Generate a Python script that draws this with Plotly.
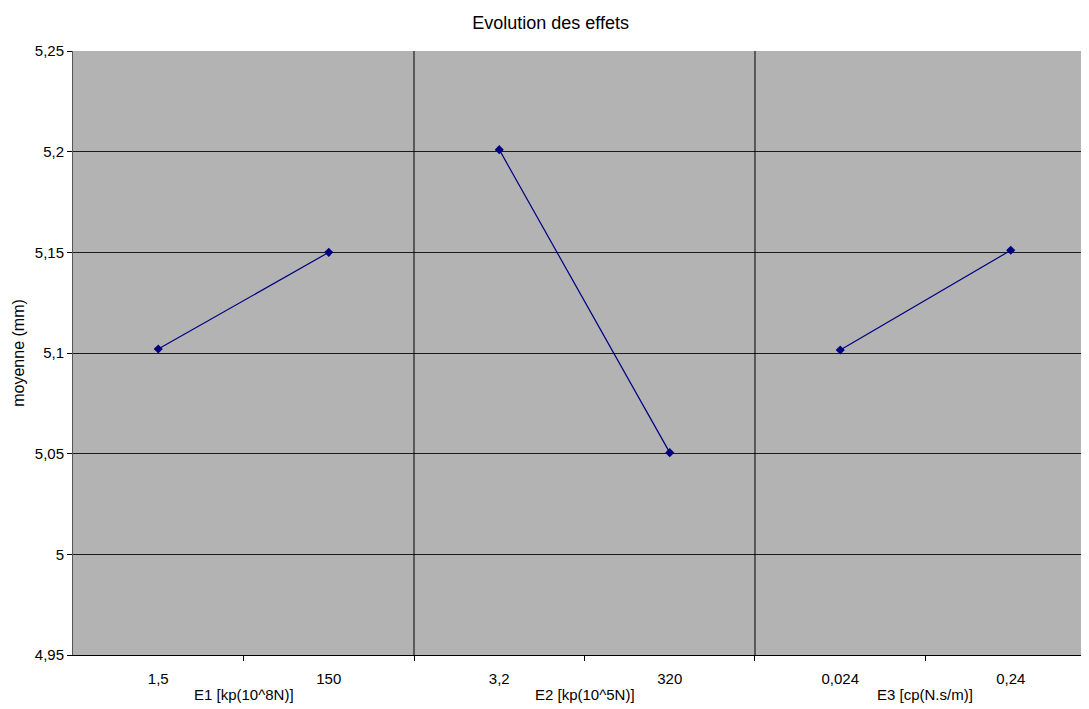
import plotly.graph_objects as go

# Data
groups = ["E1 [kp(10^8N)]", "E2 [kp(10^5N)]", "E3 [cp(N.s/m)]"]
level_labels = ["1,5", "150", "3,2", "320", "0,024", "0,24"]
e1_values = [5.102, 5.150]
e2_values = [5.201, 5.0505]
e3_values = [5.1015, 5.151]
y_ticks = [4.95, 5.0, 5.05, 5.1, 5.15, 5.2, 5.25]
y_tick_text = ["4,95", "5", "5,05", "5,1", "5,15", "5,2", "5,25"]

series = [e1_values, e2_values, e3_values]
navy = "#000080"
font = "Liberation Sans, Arial, sans-serif"

fig = go.Figure()
for gi, vals in enumerate(series):
    xs = [2 * gi + k for k in range(len(vals))]
    fig.add_trace(go.Scatter(
        x=xs, y=vals, mode="lines+markers",
        line=dict(color=navy, width=1.2),
        marker=dict(symbol="diamond", size=7, color=navy),
        showlegend=False, hoverinfo="y",
    ))

n = len(level_labels)
# Separators between groups
for gi in range(1, len(groups)):
    fig.add_shape(type="line", xref="x", yref="paper", x0=2 * gi - 0.5, x1=2 * gi - 0.5,
                  y0=0, y1=1, line=dict(color="#000000", width=1), layer="above")

# Group labels
for gi, g in enumerate(groups):
    fig.add_annotation(x=2 * gi + 0.5, xref="x", y=-0.066, yref="paper", yanchor="middle",
                       text=g, showarrow=False, font=dict(family=font, size=15, color="#000"))

fig.update_layout(
    width=1081, height=701,
    margin=dict(l=65, r=0, t=43, b=54),
    paper_bgcolor="white", plot_bgcolor="#B3B3B3",
    font=dict(family=font, size=15, color="#000"),
    title=dict(text="Evolution des effets", x=0.502, xref="container", xanchor="center",
               y=0.979, yref="container", yanchor="middle",
               font=dict(family=font, size=18, color="#000")),
    xaxis=dict(
        range=[-0.5, n - 0.5 - 0.041], tickvals=list(range(n)), ticktext=level_labels,
        ticks="", showgrid=False, zeroline=False,
        showline=True, linecolor="#000", linewidth=1,
        tickfont=dict(family=font, size=15), ticklabelstandoff=10,
        minor=dict(tickvals=[i + 0.5 for i in range(n - 1)], ticks="outside", ticklen=5,
                   tickcolor="#000", showgrid=False),
    ),
    yaxis=dict(
        range=[4.95, 5.25], tickvals=y_ticks, ticktext=y_tick_text,
        ticks="outside", ticklen=5, tickcolor="#000",
        showgrid=True, gridcolor="#1a1a1a", gridwidth=1, zeroline=False,
        showline=True, linecolor="#555", linewidth=1,
        tickfont=dict(family=font, size=15),
        title=dict(text="moyenne (mm)", font=dict(family=font, size=16), standoff=6),
    ),
)

fig.write_html("out.html")
